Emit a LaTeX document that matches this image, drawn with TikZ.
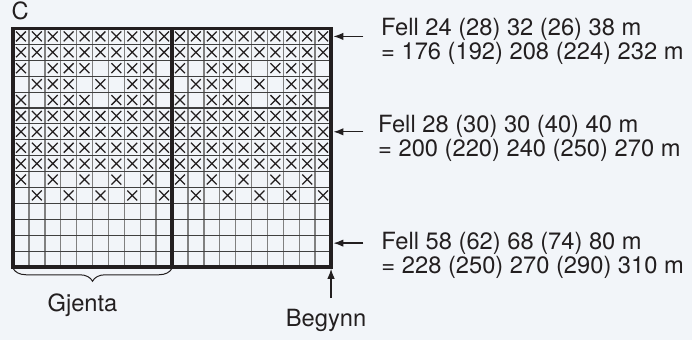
\documentclass[tikz,border=0pt]{standalone}
\usepackage{fontspec}
\setmainfont{TeX Gyre Heros}
\usetikzlibrary{arrows.meta,decorations.pathreplacing}
\definecolor{bakgrunn}{HTML}{F2F5F9}
\definecolor{blekk}{HTML}{231F20}

\begin{document}
\begin{tikzpicture}[
          x=15.9pt, y=15.9pt,
          linje-v/.style = {draw=black!50, line width=1.4pt},
          linje-h/.style = {draw=black!75, line width=1.1pt},
          kant/.style = {draw=blekk, line width=3.5pt},
          kryss/.style = {draw=blekk, line width=1.25pt},
          pil/.style = {draw=blekk, line width=1.3pt, -{Latex[length=10pt,width=7.5pt]}},
          tekst/.style = {text=blekk, font=\fontsize{23.7}{23.7}\selectfont, inner sep=0pt}
        ]
          \fill[bakgrunn] (-0.818,-4.59) rectangle (42.70,16.79);
          \useasboundingbox (-0.818,-4.59) rectangle (42.70,16.79);

          \foreach \i in {1,...,19} \draw[linje-v] (\i,0) -- (\i,15);
          \foreach \j in {1,...,14} \draw[linje-h] (0,\j) -- (20,\j);

          \foreach \r/\kol in {1/{1,...,10}, 2/{1,...,10}, 3/{1,3,4,5,7,8,9},
                               4/{2,3,4,6,8,9,10}, 5/{1,3,4,5,7,8,9},
                               6/{1,...,10}, 7/{1,...,10}, 8/{1,...,10}, 9/{1,...,10},
                               10/{1,3,5,7,9}, 11/{2,4,6,8,10}}
            \foreach \k in \kol
              \foreach \h in {0,10}
                \draw[kryss] (\h+\k-0.81,15.19-\r) -- (\h+\k-0.19,15.81-\r)
                             (\h+\k-0.81,15.81-\r) -- (\h+\k-0.19,15.19-\r);

          \draw[kant] (0,0) rectangle (20,15);
          \draw[kant] (10,0) -- (10,15);

          \coordinate (hjorne) at (20,0);
          \coordinate (r1) at (20.15,14.5);
          \coordinate (r2) at (20.15,8.5);
          \coordinate (r3) at (20.15,1.5);

          \node[tekst, anchor=base west] (c) at (-0.1,15.58) {C};

          \node[tekst, anchor=base west] (fell1) at (23.14,14.55) {Fell 24 (28) 32 (26) 38 m};
          \node[tekst, anchor=base west] (sum1) at ([yshift=-24pt]fell1.base west) {= 176 (192) 208 (224) 232 m};
          \node[tekst, anchor=base west] (fell2) at (22.95,8.43) {Fell 28 (30) 30 (40) 40 m};
          \node[tekst, anchor=base west] (sum2) at ([yshift=-24pt]fell2.base west) {= 200 (220) 240 (250) 270 m};
          \node[tekst, anchor=base west] (fell3) at (23.16,1.09) {Fell 58 (62) 68 (74) 80 m};
          \node[tekst, anchor=base west] (sum3) at ([yshift=-24pt]fell3.base west) {= 228 (250) 270 (290) 310 m};

          \draw[pil] ([xshift=30pt]r1) -- (r1);
          \draw[pil] ([xshift=30pt]r2) -- (r2);
          \draw[pil] ([xshift=30pt]r3) -- (r3);

          \draw[draw=blekk, line width=1pt, decorate, decoration={brace, mirror, amplitude=13pt}]
            (0,-0.08) -- (10,-0.08);
          \node[tekst, anchor=base] (gjenta) at (4.37,-2.77) {Gjenta};

          \node[tekst, anchor=base] (begynn) at (19.69,-3.75) {Begynn};
          \coordinate (start) at (hjorne |- begynn.north);
          \draw[pil] ([yshift=11pt]start) -- ([yshift=-1.8pt]hjorne);
        \end{tikzpicture}
\end{document}
